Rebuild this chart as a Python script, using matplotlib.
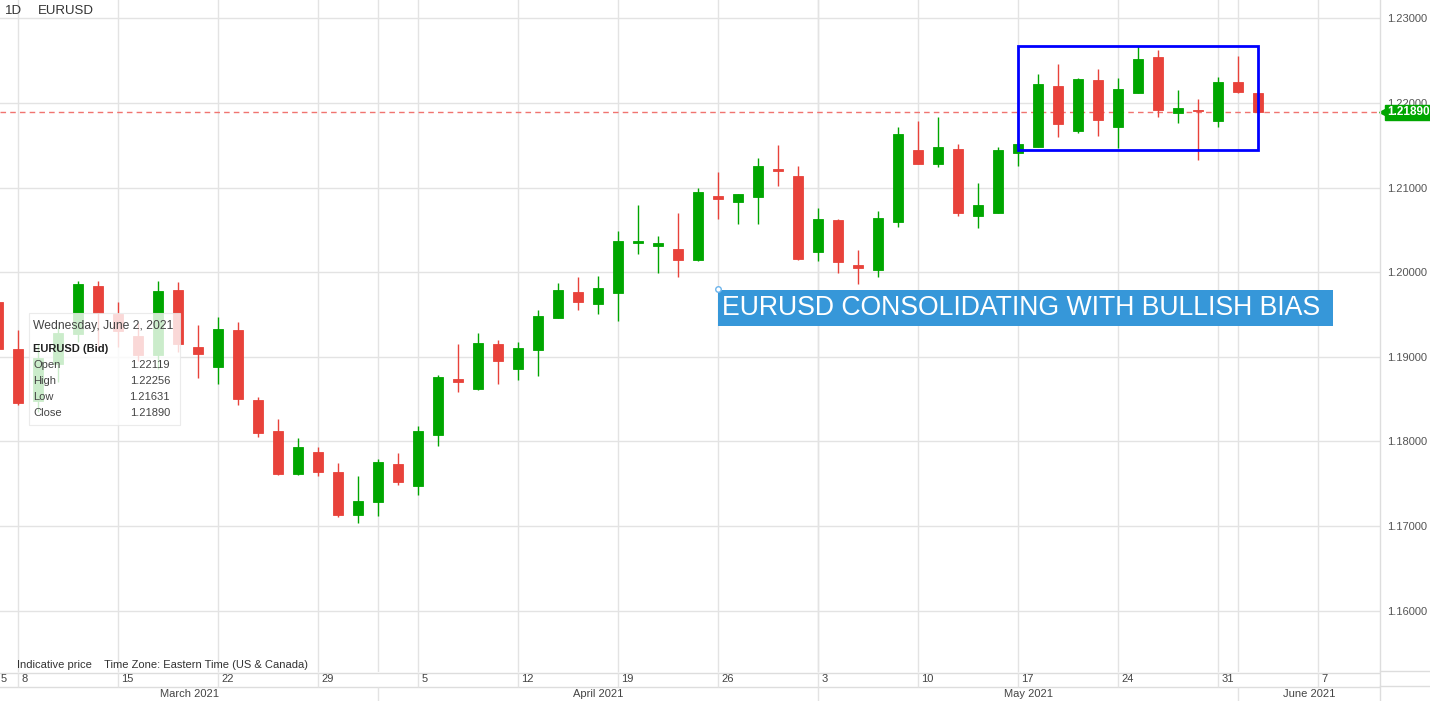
import pandas as pd
import matplotlib
matplotlib.use("Agg")
import matplotlib.pyplot as plt
from matplotlib.patches import Rectangle
from matplotlib.transforms import blended_transform_factory

plt.rcParams['font.family'] = ['Liberation Sans', 'DejaVu Sans']

# 交易日 (2021-03-05 ~ 2021-06-02)
dates = pd.bdate_range("2021-03-05", "2021-06-02")

opens = [1.1965, 1.1909, 1.1848, 1.1892, 1.1927, 1.1984, 1.1951, 1.1925, 1.1902, 1.1979,
         1.1911, 1.1888, 1.1932, 1.1849, 1.1812, 1.1761, 1.1787, 1.1764, 1.1713, 1.1728,
         1.1773, 1.1747, 1.1808, 1.1874, 1.1862, 1.1915, 1.1886, 1.1908, 1.1946, 1.1977,
         1.1962, 1.1975, 1.2035, 1.2031, 1.2028, 1.2015, 1.2090, 1.2083, 1.2089, 1.2122,
         1.2114, 1.2024, 1.2062, 1.2008, 1.2003, 1.2059, 1.2144, 1.2128, 1.2146, 1.2067,
         1.2070, 1.2141, 1.2148, 1.2220, 1.2167, 1.2227, 1.2172, 1.2212, 1.2254, 1.2188,
         1.2192, 1.2179, 1.2225, 1.2212]
highs = [1.1977, 1.1932, 1.1915, 1.1935, 1.1990, 1.1990, 1.1965, 1.1940, 1.1989, 1.1988,
         1.1937, 1.1947, 1.1941, 1.1853, 1.1827, 1.1804, 1.1793, 1.1774, 1.1759, 1.1779,
         1.1786, 1.1818, 1.1879, 1.1915, 1.1928, 1.1920, 1.1918, 1.1955, 1.1987, 1.1994,
         1.1995, 1.2049, 1.2080, 1.2043, 1.2070, 1.2099, 1.2118, 1.2093, 1.2135, 1.2150,
         1.2126, 1.2076, 1.2063, 1.2026, 1.2072, 1.2172, 1.2179, 1.2183, 1.2152, 1.2106,
         1.2148, 1.2154, 1.2234, 1.2246, 1.2230, 1.2240, 1.2230, 1.2267, 1.2263, 1.2215,
         1.2205, 1.2231, 1.2255, 1.2213]
lows = [1.1894, 1.1843, 1.1835, 1.1870, 1.1918, 1.1910, 1.1912, 1.1895, 1.1885, 1.1906,
        1.1875, 1.1868, 1.1843, 1.1805, 1.1760, 1.1760, 1.1759, 1.1711, 1.1704, 1.1712,
        1.1748, 1.1737, 1.1795, 1.1858, 1.1861, 1.1868, 1.1872, 1.1877, 1.1946, 1.1955,
        1.1950, 1.1942, 1.2022, 1.1999, 1.1994, 1.2013, 1.2063, 1.2057, 1.2057, 1.2102,
        1.2015, 1.2013, 1.1999, 1.1986, 1.1994, 1.2053, 1.2128, 1.2124, 1.2066, 1.2052,
        1.2070, 1.2126, 1.2148, 1.2160, 1.2165, 1.2161, 1.2147, 1.2212, 1.2183, 1.2176,
        1.2133, 1.2172, 1.2212, 1.2189]
closes = [1.1909, 1.1845, 1.1898, 1.1928, 1.1986, 1.1952, 1.1930, 1.1902, 1.1978, 1.1915,
          1.1903, 1.1933, 1.1850, 1.1810, 1.1762, 1.1793, 1.1764, 1.1713, 1.1730, 1.1776,
          1.1752, 1.1812, 1.1876, 1.1870, 1.1916, 1.1895, 1.1910, 1.1948, 1.1979, 1.1965,
          1.1981, 1.2037, 1.2037, 1.2035, 1.2014, 1.2095, 1.2086, 1.2092, 1.2126, 1.2120,
          1.2016, 1.2063, 1.2012, 1.2005, 1.2064, 1.2163, 1.2128, 1.2148, 1.2070, 1.2079,
          1.2144, 1.2152, 1.2223, 1.2175, 1.2228, 1.2180, 1.2217, 1.2252, 1.2192, 1.2194,
          1.2190, 1.2225, 1.2213, 1.2189]

price_ticks = [1.16, 1.17, 1.18, 1.19, 1.20, 1.21, 1.22, 1.23]
last_price = 1.21890
box_low, box_high = 1.2145, 1.2267
info_rows = [("Open", "1.22119"), ("High", "1.22256"), ("Low", "1.21631"), ("Close", "1.21890")]

GREEN = "#00a600"
RED = "#e8423a"
GRID = "#e3e3e3"
TXT = "#444444"

W, H = 1430, 701
fig = plt.figure(figsize=(W / 100, H / 100), dpi=100)


def fx(px):
    return px / W


def fy(py):
    return 1 - py / H


plot_bottom = 672
ax = fig.add_axes([0, fy(plot_bottom), fx(1380), plot_bottom / H])
ax.set_xlim(0.1, 69.1)
ax.set_ylim(1.15274, 1.232175)
for s in ax.spines.values():
    s.set_visible(False)

pos = list(range(len(dates)))
mondays = [i for i, d in enumerate(dates) if d.weekday() == 0] + [66]
month_starts = [i for i in range(1, len(dates)) if dates[i].month != dates[i - 1].month]

# 网格
for p in price_ticks:
    ax.axhline(p, color=GRID, lw=1, zorder=0)
for i in mondays + month_starts:
    ax.axvline(i, color=GRID, lw=1, zorder=0)

# 蜡烛图
for i in pos:
    o, h, l, c = opens[i], highs[i], lows[i], closes[i]
    col = GREEN if c >= o else RED
    ax.vlines(i, l, h, color=col, lw=1, zorder=2)
    body = max(abs(c - o), 0.00012)
    ax.bar(i, body, bottom=min(o, c), width=0.5, color=col,
           edgecolor=col, linewidth=0.6, zorder=3)

# 当前价格虚线
ax.axhline(last_price, color="#f07470", ls=(0, (4, 3)), lw=1, zorder=1)

# 价格轴
ax.yaxis.tick_right()
ax.set_yticks(price_ticks)
ax.set_yticklabels([f"{p:.5f}" for p in price_ticks])
ax.tick_params(axis="y", length=0, pad=5, labelsize=8, labelcolor="#555555")
ax.set_xticks([])

tr = blended_transform_factory(ax.transAxes, ax.transData)
ax.text(1 + 7 / 1380, last_price, "1.21890", transform=tr, ha="left", va="center",
        fontsize=8.5, fontweight="bold", color="white", clip_on=False, zorder=10,
        bbox=dict(boxstyle="square,pad=0.15", fc=GREEN, ec=GREEN))
ax.plot([1 + 3 / 1380], [last_price], marker="<", color=GREEN, ms=6,
        transform=tr, clip_on=False, zorder=10)

# 盘整区间
ax.add_patch(Rectangle((51, box_low), 63 - 51, box_high - box_low, fill=False,
                       ec="#0000ff", lw=2, zorder=6))

# 注释
ax.add_patch(Rectangle((36, 1.19364), 66.75 - 36, 1.19790 - 1.19364,
                       fc="#3697d9", ec="none", zorder=6))
ax.text(36.2, 1.19572, "EURUSD CONSOLIDATING WITH BULLISH BIAS", color="white",
        fontsize=19.2, ha="left", va="center", zorder=7)
ax.plot([36], [1.19805], marker="o", ms=4, mfc="white", mec="#6cb4ec", mew=1, zorder=7)

# 信息框
ax.add_patch(Rectangle((fx(29), fy(425)), fx(180) - fx(29), fy(313) - fy(425),
                       transform=fig.transFigure, fc="white", alpha=0.8,
                       ec="#e6e6e6", lw=0.8, zorder=8))
fig.text(fx(33), fy(326), "Wednesday, June 2, 2021", fontsize=8.7, color="#444444",
         va="center", zorder=9)
fig.text(fx(33), fy(349), "EURUSD (Bid)", fontsize=8, fontweight="bold", color="#222222",
         va="center", zorder=9)
for k, (name, val) in enumerate(info_rows):
    fig.text(fx(33), fy(365 + 16 * k), name, fontsize=8, color="#444444", va="center", zorder=9)
    fig.text(fx(170), fy(365 + 16 * k), val, fontsize=8, color="#444444", va="center",
             ha="right", zorder=9)

fig.text(fx(5), fy(11), "1D", fontsize=9.5, color="#333333", va="center")
fig.text(fx(38), fy(11), "EURUSD", fontsize=9.5, color="#333333", va="center")
fig.text(fx(17), fy(665), "Indicative price    Time Zone: Eastern Time (US & Canada)",
         fontsize=8, color="#333333", va="center")

# 日期轴
axb = fig.add_axes([0, 0, fx(1380), fy(plot_bottom)])
axb.set_xlim(0.1, 69.1)
axb.set_ylim(29, 0)
axb.axis("off")
axb.axhline(0.5, color="#dddddd", lw=1)
axb.axhline(15, color="#dddddd", lw=1)
for i in mondays:
    axb.vlines(i, 0, 15, color=GRID, lw=1)
    label = str(dates[i].day) if i < len(dates) else "7"
    axb.text(i + 0.17, 7.5, label, fontsize=8, color=TXT, va="center", ha="left")
axb.text(0.12, 7.5, "5", fontsize=8, color=TXT, va="center", ha="left")
for i in month_starts:
    axb.vlines(i, 15, 29, color=GRID, lw=1)
bounds = [0.1] + month_starts + [69.1]
for k, name in enumerate(["March 2021", "April 2021", "May 2021", "June 2021"]):
    axb.text((bounds[k] + bounds[k + 1]) / 2, 22, name, fontsize=8, color=TXT,
             ha="center", va="center")

fig.add_artist(plt.Line2D([fx(1380), fx(1380)], [0, 1], color="#dddddd", lw=1))
fig.add_artist(plt.Line2D([fx(1380), 1], [fy(671), fy(671)], color="#dddddd", lw=1))
fig.add_artist(plt.Line2D([fx(1380), 1], [fy(686), fy(686)], color="#dddddd", lw=1))

fig.savefig("out.png", dpi=100)
